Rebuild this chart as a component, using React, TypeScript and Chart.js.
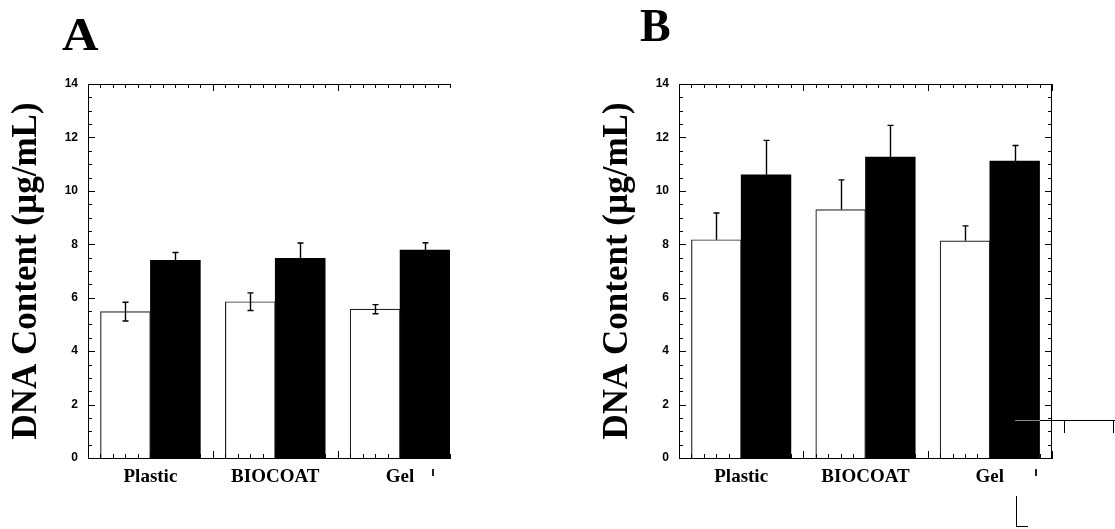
import React, { useEffect, useRef } from "react";
import { Chart, registerables } from "chart.js";

Chart.register(...registerables);

// ---- data ----
const categories = ["Plastic", "BIOCOAT", "Gel"];
const yTicks = [0, 2, 4, 6, 8, 10, 12, 14];
const yTitle = "DNA Content (µg/mL)";

const aControl = [5.48, 5.85, 5.57];
const aControlErr = [0.35, 0.33, 0.17];
const aTreated = [7.4, 7.47, 7.78];
const aTreatedErr = [0.29, 0.58, 0.28];

const bControl = [8.17, 9.3, 8.13];
const bControlErr = [1.0, 1.11, 0.56];
const bTreated = [10.6, 11.26, 11.11];
const bTreatedErr = [1.29, 1.19, 0.59];

// ---- plugins ----
const errorBarsPlugin = {
  id: "errorBars",
  afterDatasetsDraw(chart: any, _args: any, opts: any) {
    const { ctx } = chart;
    const y = chart.scales.y;
    ctx.save();
    ctx.strokeStyle = "#000";
    ctx.lineWidth = 1.4;
    const cap = 3;
    chart.data.datasets.forEach((ds: any, di: number) => {
      const meta = chart.getDatasetMeta(di);
      meta.data.forEach((bar: any, i: number) => {
        const v = ds.data[i].y;
        const e = ds.errors[i];
        const px = Math.round(bar.x) + 0.5;
        const pTop = y.getPixelForValue(v + e);
        const pBot = opts.twoSided ? y.getPixelForValue(v - e) : y.getPixelForValue(v);
        ctx.beginPath();
        ctx.moveTo(px, pTop);
        ctx.lineTo(px, pBot);
        ctx.moveTo(px - cap, pTop);
        ctx.lineTo(px + cap, pTop);
        if (opts.twoSided) {
          ctx.moveTo(px - cap, pBot);
          ctx.lineTo(px + cap, pBot);
        }
        ctx.stroke();
      });
    });
    ctx.restore();
  },
};

const frameTicksPlugin = {
  id: "frameTicks",
  afterDatasetsDraw(chart: any, _args: any, opts: any) {
    const { ctx, chartArea } = chart;
    const { left, right, top, bottom } = chartArea;
    const x = chart.scales.x;
    const y = chart.scales.y;
    ctx.save();
    ctx.strokeStyle = "#000";
    ctx.lineWidth = 1;
    ctx.beginPath();
    const t = Math.round(top) + 0.5;
    ctx.moveTo(left, t);
    ctx.lineTo(right, t);
    const r = Math.round(right) - 0.5;
    if (opts.rightAxis) {
      ctx.moveTo(r, top);
      ctx.lineTo(r, bottom);
    }
    const nx = Math.round(x.max * 10);
    for (let i = 0; i <= nx; i++) {
      const px = Math.round(x.getPixelForValue(i / 10)) + 0.5;
      const len = i % 10 === 0 ? 7 : 4;
      ctx.moveTo(px, bottom);
      ctx.lineTo(px, bottom - len);
      ctx.moveTo(px, top);
      ctx.lineTo(px, top + len);
    }
    const ny = Math.round(y.max * 2);
    for (let i = 0; i <= ny; i++) {
      const py = Math.round(y.getPixelForValue(i / 2)) + 0.5;
      const len = i % 4 === 0 ? 7 : 4;
      ctx.moveTo(left, py);
      ctx.lineTo(left + len, py);
      if (opts.rightAxis) {
        ctx.moveTo(right, py);
        ctx.lineTo(right - len, py);
      }
    }
    ctx.stroke();
    ctx.restore();
  },
};

type PanelProps = {
  left: number;
  width: number;
  height: number;
  padLeft: number;
  padRight: number;
  xMax: number;
  control: number[];
  controlErr: number[];
  treated: number[];
  treatedErr: number[];
  twoSided: boolean;
  rightAxis: boolean;
};

function Panel(p: PanelProps) {
  const ref = useRef<HTMLCanvasElement>(null);
  useEffect(() => {
    const chart = new Chart(ref.current as HTMLCanvasElement, {
      type: "bar",
      data: {
        datasets: [
          {
            label: "control",
            data: p.control.map((v, i) => ({ x: i + 0.3, y: v })),
            errors: p.controlErr,
            backgroundColor: "#fff",
            borderColor: "#222",
            borderWidth: 1.2,
            grouped: false,
            categoryPercentage: 1,
            barPercentage: 1,
          } as any,
          {
            label: "treated",
            data: p.treated.map((v, i) => ({ x: i + 0.7, y: v })),
            errors: p.treatedErr,
            backgroundColor: "#000",
            borderColor: "#000",
            borderWidth: 0,
            grouped: false,
            categoryPercentage: 1,
            barPercentage: 1,
          } as any,
        ],
      },
      options: {
        animation: false,
        responsive: false,
        devicePixelRatio: 1,
        events: [],
        layout: { padding: { left: p.padLeft, right: p.padRight, top: 84, bottom: 0 } },
        plugins: {
          legend: { display: false },
          tooltip: { enabled: false },
          errorBars: { twoSided: p.twoSided },
          frameTicks: { rightAxis: p.rightAxis },
        } as any,
        scales: {
          x: {
            type: "linear",
            min: 0,
            max: p.xMax,
            offset: false,
            grid: { display: false, drawTicks: false, offset: false },
            border: { display: true, color: "#000", width: 1 },
            afterBuildTicks: (s: any) => {
              s.ticks = categories.map((_, i) => ({ value: i + 0.5 }));
            },
            afterFit: (s: any) => {
              s.height = 71;
            },
            ticks: {
              autoSkip: false,
              maxRotation: 0,
              minRotation: 0,
              padding: 8,
              color: "#000",
              font: { family: "'Liberation Serif', 'Times New Roman', serif", weight: "bold", size: 19 },
              callback: (v: any) => categories[Math.round(Number(v) - 0.5)],
            },
          },
          y: {
            type: "linear",
            min: 0,
            max: 14,
            grid: { display: false, drawTicks: false },
            border: { display: true, color: "#000", width: 1 },
            afterBuildTicks: (s: any) => {
              s.ticks = yTicks.map((v) => ({ value: v }));
            },
            afterFit: (s: any) => {
              s.width = 88;
            },
            ticks: {
              padding: 10,
              color: "#000",
              font: { family: "'Liberation Sans', Arial, sans-serif", weight: "bold", size: 12 },
            },
            title: {
              display: true,
              text: yTitle,
              color: "#000",
              font: { family: "'Liberation Serif', 'Times New Roman', serif", weight: "bold", size: 35 },
              padding: { top: 6, bottom: 0 },
            },
          },
        } as any,
      },
      plugins: [errorBarsPlugin, frameTicksPlugin],
    } as any);
    return () => chart.destroy();
  }, []);
  return (
    <canvas
      ref={ref}
      width={p.width}
      height={p.height}
      style={{ position: "absolute", left: p.left, top: 0, width: p.width, height: p.height }}
    />
  );
}

const line = (l: number, t: number, w: number, h: number, c = "#000") => (
  <div style={{ position: "absolute", left: l, top: t, width: w, height: h, background: c }} />
);

export default function App() {
  const letter = {
    position: "absolute" as const,
    fontFamily: "'Liberation Serif', 'Times New Roman', serif",
    fontWeight: "bold" as const,
    fontSize: 46,
    lineHeight: "46px",
    color: "#000",
  };
  return (
    <div
      style={{
        position: "absolute",
        left: 0,
        top: 0,
        width: 1115,
        height: 529,
        background: "#fff",
        overflow: "hidden",
      }}
    >
      <Panel
        left={0}
        width={560}
        height={529}
        padLeft={0}
        padRight={110}
        xMax={2.9}
        control={aControl}
        controlErr={aControlErr}
        treated={aTreated}
        treatedErr={aTreatedErr}
        twoSided={true}
        rightAxis={false}
      />
      <Panel
        left={560}
        width={555}
        height={529}
        padLeft={31}
        padRight={63}
        xMax={3.0}
        control={bControl}
        controlErr={bControlErr}
        treated={bTreated}
        treatedErr={bTreatedErr}
        twoSided={false}
        rightAxis={true}
      />
      <div style={{ ...letter, left: 62, top: 12, transform: "scaleX(1.1)", transformOrigin: "left top" }}>A</div>
      <div style={{ ...letter, left: 640, top: 3 }}>B</div>
      {/* stray marks present in the original figure */}
      {line(432, 469, 2, 7, "#222")}
      {line(1035, 469, 2, 7, "#222")}
      {line(1015, 420, 25, 1, "#888")}
      {line(1040, 420, 75, 1, "#000")}
      {line(1064, 420, 1, 13, "#000")}
      {line(1113, 420, 1, 13, "#000")}
      {line(1016, 496, 1, 31, "#000")}
      {line(1016, 526, 12, 1, "#000")}
    </div>
  );
}
